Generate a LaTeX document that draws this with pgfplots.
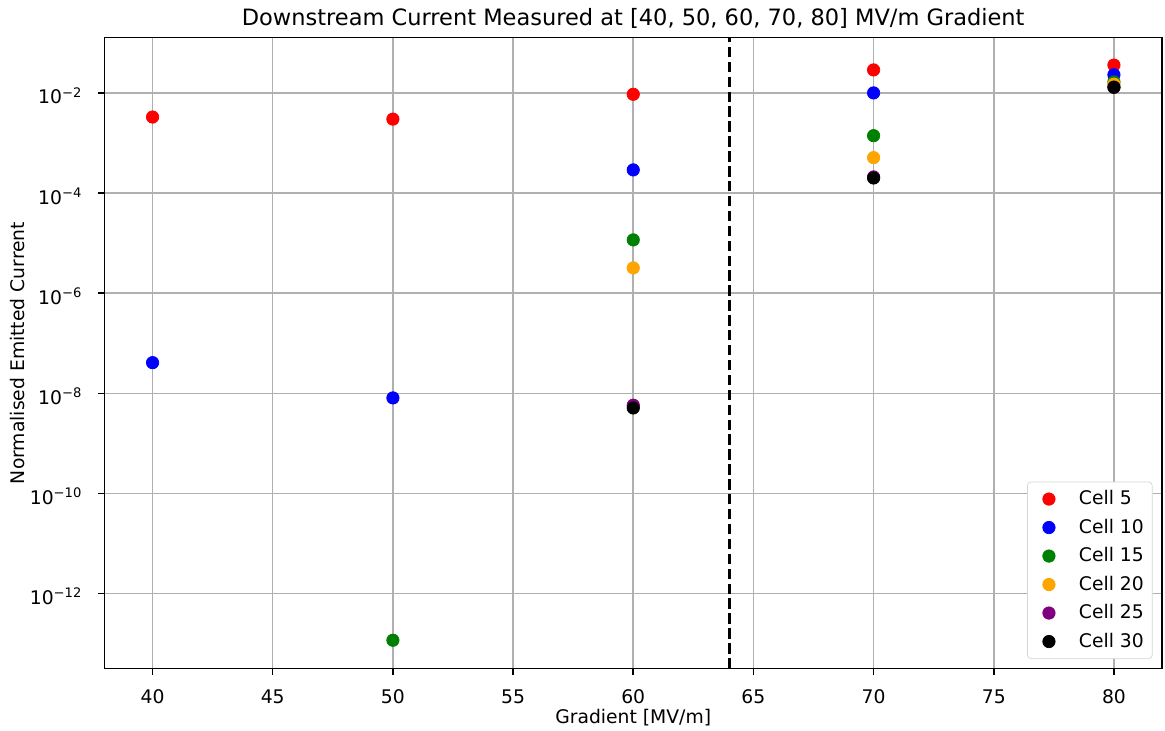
\documentclass[border=0pt]{standalone}
\usepackage{pgfplots}
\pgfplotsset{compat=1.18}
\usepackage{fontspec}
\setmainfont{DejaVu Sans}
\definecolor{mplgreen}{HTML}{008000}
\definecolor{mplorange}{HTML}{FFA500}
\definecolor{mplpurple}{HTML}{800080}
\definecolor{gridgray}{HTML}{B0B0B0}
\definecolor{legedge}{HTML}{D6D6D6}
\pgfplotsset{
  cellpt/.style={only marks, mark=*, mark size=3.3pt, color=#1,
    mark options={fill=#1, draw=#1, solid},
    legend image code/.code={\path[draw=none,fill=none] (0pt,0pt) -- (18pt,0pt); \draw[mark repeat=2,mark phase=2] plot coordinates {(0pt,0pt)(9pt,0pt)(18pt,0pt)};}},
}
\begin{document}
\begin{tikzpicture}
\useasboundingbox (-55.73pt,-33.33pt) rectangle (565.6pt,356.5pt);
\begin{axis}[
  at={(0pt,0pt)}, anchor=south west,
  scale only axis, width=564pt, height=336.5pt,
  xmin=38, xmax=82,
  ymode=log, ymin=3.2e-14, ymax=0.128,
  xtick={40,45,50,55,60,65,70,75,80},
  xticklabels={40,45,50,55,60,65,70,75,80},
  ytick={1e-12,1e-10,1e-8,1e-6,1e-4,1e-2},
  yticklabels={10\textsuperscript{−12},10\textsuperscript{−10},10\textsuperscript{−8},10\textsuperscript{−6},10\textsuperscript{−4},10\textsuperscript{−2}},
  xminorticks=false, yminorticks=false,
  tick pos=left, tick align=outside, major tick length=3.5pt,
  major tick style={line width=0.8pt, black},
  axis line style={line width=0.8pt, black},
  grid=major, major grid style={line width=0.8pt, gridgray},
  xticklabel style={anchor=base, inner sep=0pt, yshift=-15.2pt, font=\fontsize{10}{12}\selectfont},
  yticklabel style={anchor=base east, inner sep=0pt, xshift=-8.1pt, yshift=-5.9pt, font=\fontsize{10}{12}\selectfont},
  title={Downstream Current Measured at [40, 50, 60, 70, 80] MV/m Gradient},
  every axis title/.style={at={(axis description cs:0.5,1.01872)}, anchor=base, inner sep=0pt, font=\fontsize{12}{14}\selectfont},
  xlabel={Gradient [MV/m]},
  every axis x label/.style={at={(axis description cs:0.5,-0.08796)}, anchor=base, inner sep=0pt, font=\fontsize{10}{12}\selectfont},
  ylabel={Normalised Emitted Current},
  every axis y label/.style={at={(axis description cs:-0.07606,0.5)}, rotate=90, anchor=base, inner sep=0pt, font=\fontsize{10}{12}\selectfont},
  legend style={at={(axis description cs:1,0)}, anchor=south east, xshift=-5pt, yshift=5pt,
    draw=legedge, fill=white, rounded corners=2pt,
    inner xsep=2.5pt, inner ysep=2.6pt, row sep=2.1pt, column sep=5pt,
    nodes={inner sep=2pt}, font=\fontsize{10}{12}\selectfont},
  legend cell align=left,
]
\addplot[black, line width=1.5pt, dash pattern=on 5.55pt off 2.4pt, forget plot] coordinates {(64,3.2e-14) (64,0.128)};
\addplot[cellpt=red] coordinates {(40,3.3e-3) (50,3.0e-3) (60,9.4e-3) (70,2.88e-2) (80,3.6e-2)};
\addlegendentry{Cell 5}
\addplot[cellpt=blue] coordinates {(40,4.1e-8) (50,8.1e-9) (60,2.9e-4) (70,1.0e-2) (80,2.3e-2)};
\addlegendentry{Cell 10}
\addplot[cellpt=mplgreen] coordinates {(50,1.17e-13) (60,1.16e-5) (70,1.4e-3) (80,1.66e-2)};
\addlegendentry{Cell 15}
\addplot[cellpt=mplorange] coordinates {(60,3.2e-6) (70,5.1e-4) (80,1.5e-2)};
\addlegendentry{Cell 20}
\addplot[cellpt=mplpurple] coordinates {(60,5.8e-9) (70,2.1e-4) (80,1.3e-2)};
\addlegendentry{Cell 25}
\addplot[cellpt=black] coordinates {(60,5.1e-9) (70,2.0e-4) (80,1.3e-2)};
\addlegendentry{Cell 30}
\end{axis}
\end{tikzpicture}
\end{document}
